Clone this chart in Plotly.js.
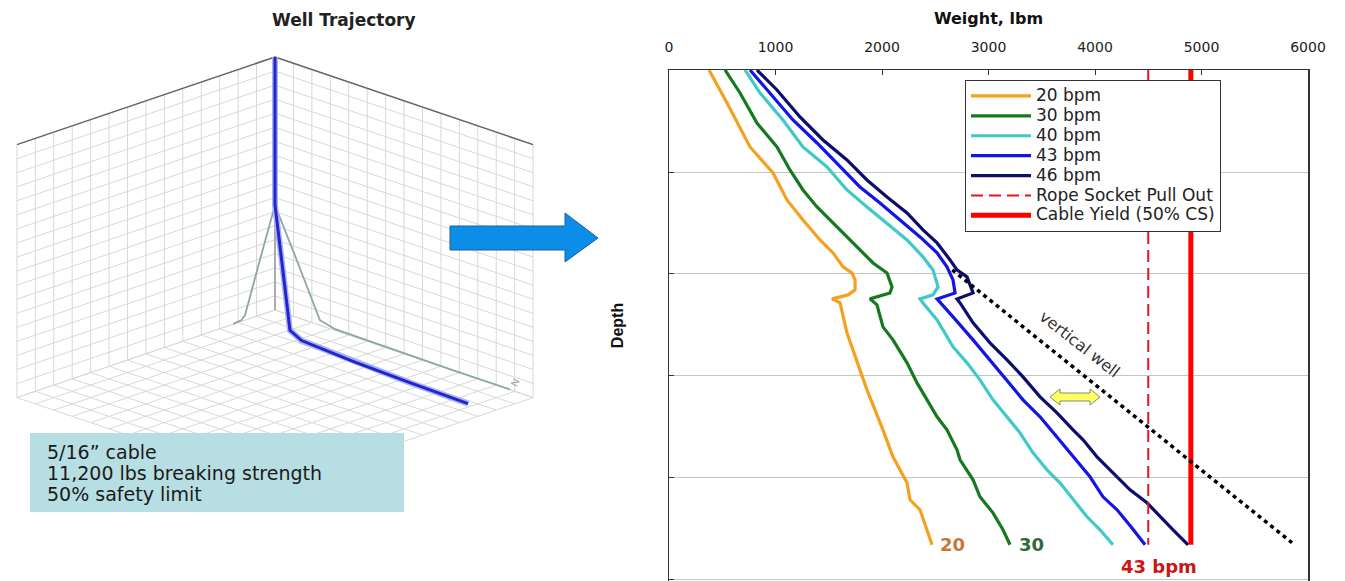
<!DOCTYPE html>
<html><head><meta charset="utf-8">
<script src="https://cdn.plot.ly/plotly-3.0.1.min.js"></script>
<style>html,body{margin:0;padding:0;background:#fff;}#chart{width:1345px;height:581px;}</style>
</head><body><div id="chart"></div>
<script>
// ---- Weight vs depth (right chart) ----
const depth20 = [0,647,1509,2019,2548,2940,3332,3587,3861,3979,4116,4312,4410,4488,4567,5155,5880,6272,7056,7585,8095,8428,8624,9016,9310];
const weight20 = [376,545,761,977,1108,1258,1418,1540,1634,1718,1747,1747,1681,1531,1606,1671,1793,1859,2009,2103,2235,2263,2357,2423,2470];
const depth30 = [0,451,1039,1509,1960,2352,2685,2999,3273,3567,3783,3979,4253,4371,4488,4606,5037,5292,5743,6135,6468,6801,7056,7448,7644,8036,8369,8683,9016,9310];
const weight30 = [526,667,826,1014,1136,1258,1390,1540,1671,1822,1916,2047,2094,2075,1887,1953,2009,2103,2235,2329,2423,2517,2610,2704,2733,2855,2920,3042,3136,3202];
const depth40 = [0,451,980,1509,1901,2352,2685,2999,3332,3665,3920,4253,4410,4488,4567,4900,5429,5743,6076,6468,6801,7115,7507,7840,8095,8428,8761,9016,9310];
const weight40 = [714,855,1070,1258,1484,1671,1859,2047,2235,2385,2479,2526,2479,2357,2385,2517,2667,2798,2920,3042,3174,3296,3418,3549,3671,3794,3925,4047,4169];
const depth43 = [0,451,980,1431,1901,2293,2607,2940,3273,3587,3861,4116,4371,4488,4606,4841,5292,5684,6076,6468,6801,7193,7585,7977,8369,8624,8957,9310];
const weight43 = [761,948,1164,1390,1606,1793,1981,2169,2357,2517,2610,2667,2686,2517,2564,2667,2855,3014,3174,3324,3484,3643,3794,3953,4075,4207,4338,4470];
const depth46 = [0,392,921,1372,1764,2156,2489,2803,3136,3391,3724,3920,4057,4371,4488,4567,4959,5351,5684,6017,6409,6723,7056,7252,7585,7899,8232,8487,8761,9016,9310];
const weight46 = [826,1014,1230,1446,1671,1859,2047,2235,2385,2517,2639,2704,2798,2855,2704,2733,2855,3014,3174,3324,3484,3643,3794,3888,4019,4169,4329,4488,4611,4733,4874];
const seriesNames = ["20 bpm","30 bpm","40 bpm","43 bpm","46 bpm"];
const ropeSocketWeight = [4500,4500];
const cableYieldWeight = [4900,4900];
const limitDepth = [0,9310];
const verticalWellWeight = [2660,5850];
const verticalWellDepth = [3920,9270];
const weightTicks = [0,1000,2000,3000,4000,5000,6000];
const noteLines = ['5/16” cable','11,200 lbs breaking strength','50% safety limit'];

// ---- Well trajectory (left 3D box: East, North, TVD) ----
const wellEast  = [0,0,-406,-812,-910,-1015,-1085,-1134];
const wellNorth = [0,0,-609,-1218,-1631,-3150,-4760,-6370];
const wellTVD   = [0,2633,3510,4410,4478,4490,4495,4495];
const eastRange = [-7000,0], northRange = [-7000,0], tvdRange = [0,4500];
const horizTickStep = 500, tvdTickStep = 250;

const W = 1345, H = 581;
const PX = x => x / W, PY = y => 1 - y / H;
const FONT = '"DejaVu Sans", Verdana, sans-serif';
const FONT_N = '"Liberation Sans", Arial, sans-serif';

// orthographic view of the 3D box (drawn without WebGL): corner = far vertical edge
const VIEW = {cx:275, cy:57, L:365, HV:253, sx:0.7071, sy:0.24};
function proj(e, n, t) {
  const dx = (e - eastRange[1]) / (eastRange[1] - eastRange[0]) * VIEW.L;
  const dy = (n - northRange[1]) / (northRange[1] - northRange[0]) * VIEW.L;
  const dz = (t - tvdRange[0]) / (tvdRange[1] - tvdRange[0]) * VIEW.HV;
  return [VIEW.cx + (dx - dy) * VIEW.sx, VIEW.cy + dz + (-dx - dy) * VIEW.sy];
}
function polyline(pts) { const xs = [], ys = []; pts.forEach(p => { const q = proj(p[0], p[1], p[2]); xs.push(q[0]); ys.push(q[1]); }); return [xs, ys]; }
function ticks(r, s) { const a = []; for (let v = r[0]; v <= r[1] + 1e-9; v += s) a.push(v); return a; }

const eT = ticks(eastRange, horizTickStep), nT = ticks(northRange, horizTickStep), tT = ticks(tvdRange, tvdTickStep);
const eMax = eastRange[1], nMax = northRange[1], eMin = eastRange[0], nMin = northRange[0], tTop = tvdRange[0], tBot = tvdRange[1];
const gx = [], gy = [];
function seg(a, b) { const p = proj(...a), q = proj(...b); gx.push(p[0], q[0], null); gy.push(p[1], q[1], null); }
eT.forEach(e => { seg([e, nMax, tTop], [e, nMax, tBot]); seg([e, nMax, tBot], [e, nMin, tBot]); });
nT.forEach(n => { seg([eMax, n, tTop], [eMax, n, tBot]); seg([eMax, n, tBot], [eMin, n, tBot]); });
tT.forEach(t => { seg([eMin, nMax, t], [eMax, nMax, t]); seg([eMax, nMax, t], [eMax, nMin, t]); });
const ex = [], ey = [];
[[[eMin, nMax, tTop], [eMax, nMax, tTop]], [[eMax, nMax, tTop], [eMax, nMin, tTop]]].forEach(s => {
  const p = proj(...s[0]), q = proj(...s[1]); ex.push(p[0], q[0], null); ey.push(p[1], q[1], null); });
const backEdge = polyline([[eMax, nMax, tTop], [eMax, nMax, tBot]]);
const northLabelPos = proj(eMax, nMin + 700, tBot);

const wellPts = wellEast.map((e, i) => [e, wellNorth[i], wellTVD[i]]);
const wellXY = polyline(wellPts);
const shadowRight = polyline(wellPts.map(p => [eMax, p[1], p[2]]));
const shadowLeft = polyline(wellPts.map(p => [p[0], nMax, p[2]]));

const colors = ['#f5a01e','#157a1e','#3fc9c9','#1414e6','#0d0d6e'];
const depths = [depth20, depth30, depth40, depth43, depth46];
const weights = [weight20, weight30, weight40, weight43, weight46];
const LG = s => '<span style="font-size:17px">' + s + '</span>';

const traces = [];
for (let i = 0; i < 5; i++) {
  traces.push({type:'scatter', mode:'lines', x:weights[i], y:depths[i], name:LG(seriesNames[i]),
    line:{color:colors[i], width:3.2}, xaxis:'x', yaxis:'y'});
}
traces.push({type:'scatter', mode:'lines', x:ropeSocketWeight, y:limitDepth, name:LG('Rope Socket Pull Out'),
  line:{color:'#e8141e', width:2, dash:'12px,6px'}});
traces.push({type:'scatter', mode:'lines', x:cableYieldWeight, y:limitDepth, name:LG('Cable Yield (50% CS)'),
  line:{color:'#ff0000', width:5}});
traces.push({type:'scatter', mode:'lines', x:verticalWellWeight, y:verticalWellDepth, showlegend:false,
  line:{color:'#000', width:3.5, dash:'4px,4px'}});

const t3 = {type:'scatter', mode:'lines', xaxis:'x2', yaxis:'y2', showlegend:false, hoverinfo:'skip'};
traces.push(Object.assign({}, t3, {x:gx, y:gy, line:{color:'#d8d8d8', width:1}}));
traces.push(Object.assign({}, t3, {x:ex, y:ey, line:{color:'#666', width:1.5}}));
traces.push(Object.assign({}, t3, {x:backEdge[0], y:backEdge[1], line:{color:'#9a9a9a', width:1.5}}));
traces.push(Object.assign({}, t3, {x:shadowRight[0], y:shadowRight[1], line:{color:'#8fa89f', width:1.8}}));
traces.push(Object.assign({}, t3, {x:shadowLeft[0], y:shadowLeft[1], line:{color:'#8fa89f', width:1.8}}));
traces.push(Object.assign({}, t3, {x:wellXY[0], y:wellXY[1], line:{color:'#a8b4f0', width:6}}));
traces.push(Object.assign({}, t3, {x:wellXY[0], y:wellXY[1], line:{color:'#2323cf', width:3}}));

const annotations = [
  {xref:'paper', yref:'paper', x:PX(270), y:PY(20), yanchor:'middle', text:'<b>Well Trajectory</b>', showarrow:false,
   font:{size:17, family:FONT, color:'#222'}},
  {xref:'x2', yref:'y2', x:northLabelPos[0] + 8, y:northLabelPos[1] - 6, text:'N', textangle:-65, showarrow:false,
   font:{size:10, family:FONT_N, color:'#999'}},
  {xref:'x', yref:'y', x:2660, y:9310, text:'<b>20</b>', showarrow:false, xanchor:'center', font:{size:18, family:FONT, color:'#c9773a'}},
  {xref:'x', yref:'y', x:3400, y:9310, text:'<b>30</b>', showarrow:false, xanchor:'center', font:{size:18, family:FONT, color:'#2f6b3a'}},
  {xref:'x', yref:'y', x:4600, y:9741, text:'<b>43 bpm</b>', showarrow:false, xanchor:'center', font:{size:18, family:FONT, color:'#cc1616'}},
  {xref:'x', yref:'y', x:3859, y:5390, text:'vertical well', textangle:38, showarrow:false, font:{size:16, family:FONT, color:'#333'}}
];
noteLines.forEach((s, i) => annotations.push({xref:'paper', yref:'paper', x:PX(45), y:PY(452 + 21 * i), xanchor:'left',
  yanchor:'middle', showarrow:false, text:s, font:{size:19, family:FONT, color:'#1a1a1a'}}));

const layout = {
  width:W, height:H, margin:{l:0,r:0,t:0,b:0}, paper_bgcolor:'#fff', plot_bgcolor:'rgba(0,0,0,0)',
  font:{family:FONT, color:'#222'},
  xaxis:{domain:[PX(669),PX(1308)], range:[0,6000], side:'top', tickvals:weightTicks, ticks:'inside', ticklen:5,
    tickcolor:'#333', showgrid:false, zeroline:false, showline:true, mirror:true, linecolor:'#333', linewidth:1.5,
    tickfont:{size:14, family:FONT, color:'#222'}, ticklabelstandoff:11,
    title:{text:'<b>Weight, lbm</b>', font:{size:16, family:FONT, color:'#111'}, standoff:10}, automargin:false},
  yaxis:{domain:[0,PY(70)], range:[10020,0], dtick:2000, showticklabels:false, ticks:'inside', ticklen:5,
    tickcolor:'#333', showgrid:true, gridcolor:'#c4c4c4', gridwidth:1, zeroline:false, showline:true, mirror:true,
    linecolor:'#333', linewidth:1.5,
    title:{text:'<b>Depth</b>', font:{size:16, family:FONT_N, color:'#111'}, standoff:40}, automargin:false},
  xaxis2:{domain:[0,0.45], range:[0,0.45*W], visible:false, fixedrange:true},
  yaxis2:{domain:[0,1], range:[H,0], visible:false, fixedrange:true, anchor:'x2'},
  showlegend:true,
  legend:{x:PX(965), y:PY(80), xanchor:'left', yanchor:'top', bgcolor:'#fff', bordercolor:'#333', borderwidth:1,
    font:{size:13, family:FONT, color:'#222'}, itemwidth:60, tracegroupgap:0},
  shapes:[
    {type:'path', xref:'paper', yref:'paper', fillcolor:'#0b8de8', line:{color:'#1d5f9e', width:1},
     path:`M${PX(450)},${PY(226)} L${PX(565)},${PY(226)} L${PX(565)},${PY(213)} L${PX(598)},${PY(238)} L${PX(565)},${PY(262)} L${PX(565)},${PY(250)} L${PX(450)},${PY(250)} Z`},
    {type:'rect', xref:'paper', yref:'paper', x0:PX(30), x1:PX(404), y0:PY(512), y1:PY(433), fillcolor:'#b7dfe3', line:{width:0}},
    {type:'path', xref:'paper', yref:'paper', fillcolor:'#ffff66', line:{color:'#8a8a6a', width:1},
     path:`M${PX(1050)},${PY(397)} L${PX(1060)},${PY(389)} L${PX(1060)},${PY(393)} L${PX(1090)},${PY(393)} L${PX(1090)},${PY(389)} L${PX(1100)},${PY(397)} L${PX(1090)},${PY(405)} L${PX(1090)},${PY(401)} L${PX(1060)},${PY(401)} L${PX(1060)},${PY(405)} Z`}
  ],
  annotations:annotations
};

Plotly.newPlot('chart', traces, layout, {displayModeBar:false, staticPlot:true});
</script></body></html>
